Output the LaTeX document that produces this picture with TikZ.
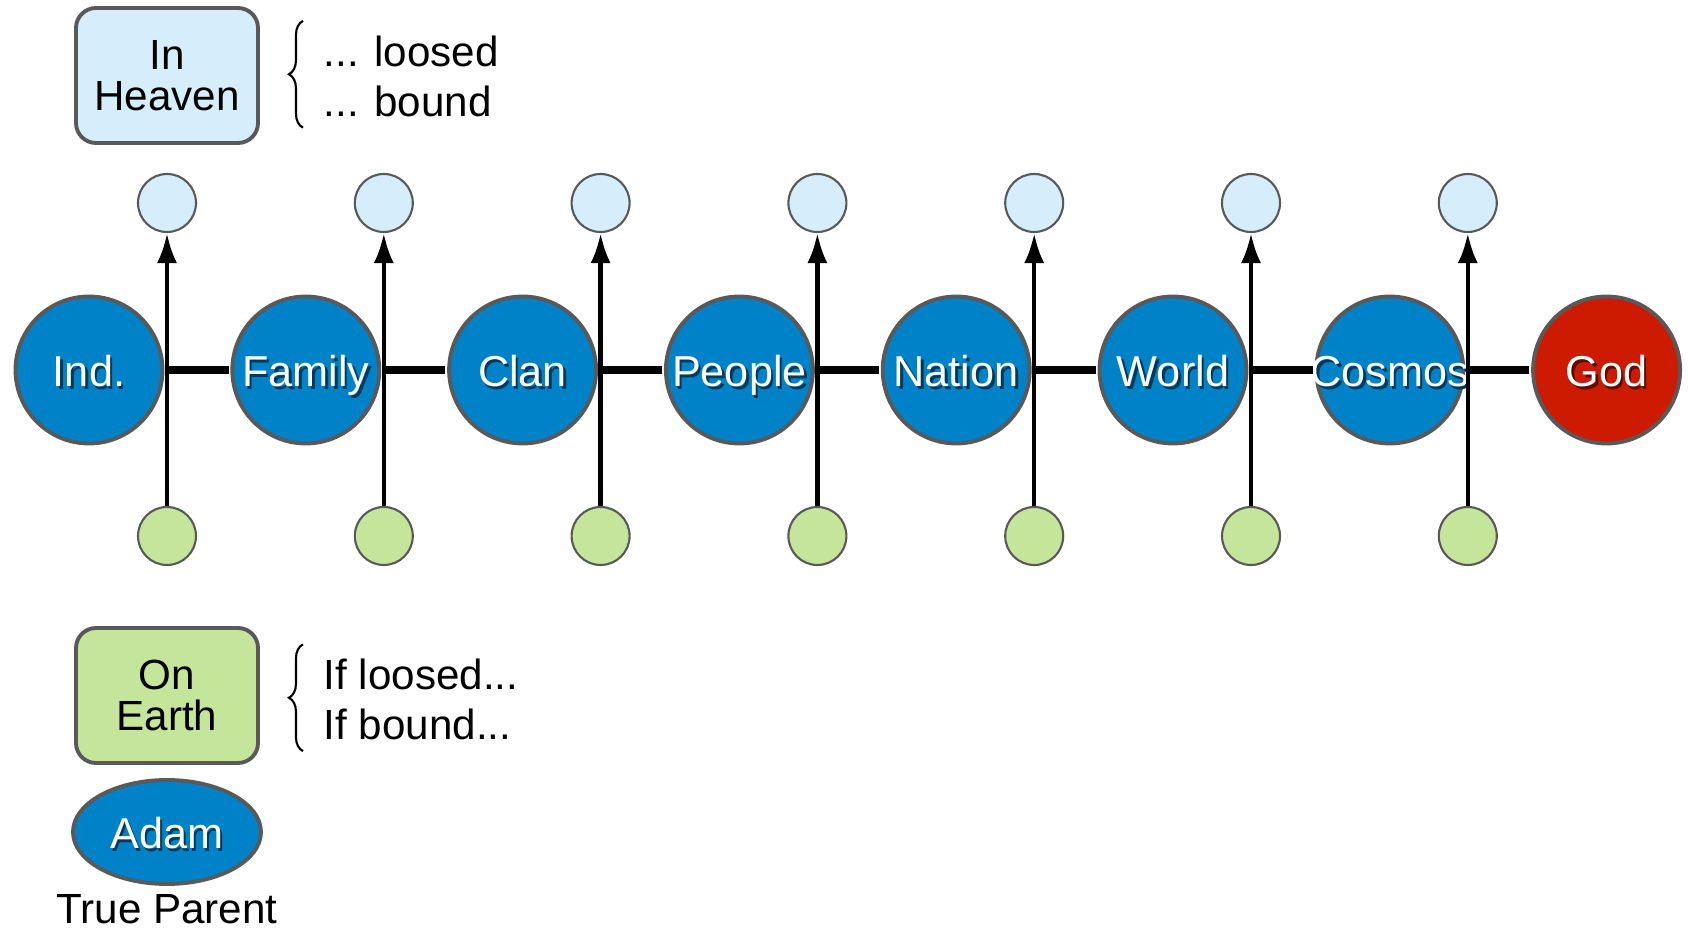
\documentclass[tikz,border=0pt]{standalone}
\usepackage{fontspec}
\setmainfont{Liberation Sans}
\usepackage{xcolor}
\usetikzlibrary{arrows.meta,decorations.pathreplacing,shapes.geometric}

\definecolor{lvblue}{HTML}{0082C8}
\definecolor{lvred}{HTML}{CC1B00}
\definecolor{lvsky}{HTML}{D6EEFC}
\definecolor{lvleaf}{HTML}{C4E59A}
\definecolor{lvrim}{HTML}{595959}
\newcommand{\shtxt}[2][lvblue!45!black]{\makebox[0pt]{\makebox[0pt][l]{\kern0.7pt\raisebox{-0.7pt}{\textcolor{#1}{#2}}}#2}}

\tikzset{
  realm/.style={circle, draw=lvrim, line width=1.1pt, fill=lvblue, minimum size=1.47cm,
    inner sep=0pt, text=white, text height=0.95em, text depth=0pt,
    font=\fontsize{12.3}{14}\selectfont},
  heaven/.style={circle, draw=lvrim, line width=0.6pt, fill=lvsky, minimum size=0.58cm},
  earth/.style={heaven, fill=lvleaf},
  tag/.style={rounded corners=0.2cm, draw=lvrim, line width=1.1pt, minimum width=1.82cm,
    minimum height=1.35cm, align=center, font=\fontsize{12}{11.6}\selectfont},
  note/.style={align=left, inner sep=0pt, font=\fontsize{12}{14.2}\selectfont},
  curly/.style={decorate, decoration={brace, amplitude=4pt}, line width=0.6pt}
}

\begin{document}
\begin{tikzpicture}[scale=1.0]
  \useasboundingbox (0,0) rectangle (16.88,9.29);
  \foreach \l [count=\i from 0] in {Ind., Family, Clan, People, Nation, World, Cosmos}
    \node[realm] (g\i) at (0.89+2.168*\i,5.59) {\shtxt{\l}};
  \node[realm, fill=lvred] (g7) at (0.89+2.168*7,5.59) {\shtxt[lvred!45!black]{God}};
  \foreach \i in {0,...,6} {
    \pgfmathtruncatemacro{\j}{\i+1}
    \draw[line width=2.2pt, shorten <=0.5pt, shorten >=0.5pt] (g\i) -- (g\j);
    \node[heaven] (up\i) at (1.67+2.168*\i,7.26) {};
    \node[earth] (dn\i) at (1.67+2.168*\i,3.93) {};
    \draw[-{Latex[length=3mm,width=2mm]}, line width=1.2pt] (dn\i) -- (up\i);
  }

  \node[tag, fill=lvsky] (sky) at (1.67,8.535) {In\\Heaven};
  \node[note, anchor=west] (skytxt) at (3.23,8.53) {... loosed\\... bound};
  \draw[curly] ([shift={(-0.2,-0.105)}]skytxt.south west) -- ([shift={(-0.2,0.14)}]skytxt.north west);

  \node[tag, fill=lvleaf] (soil) at (1.67,2.335) {On\\Earth};
  \node[note, anchor=west] (soiltxt) at (3.23,2.295) {If loosed...\\If bound...};
  \draw[curly] ([shift={(-0.2,-0.105)}]soiltxt.south west) -- ([shift={(-0.2,0.14)}]soiltxt.north west);

  \node[realm, ellipse, minimum width=1.88cm, minimum height=1.04cm] (adam) at (1.67,0.97) {\shtxt{Adam}};
  \node[anchor=base, inner sep=0pt, font=\fontsize{12}{14}\selectfont] (parent) at (1.67,0.06) {True Parent};
\end{tikzpicture}
\end{document}
